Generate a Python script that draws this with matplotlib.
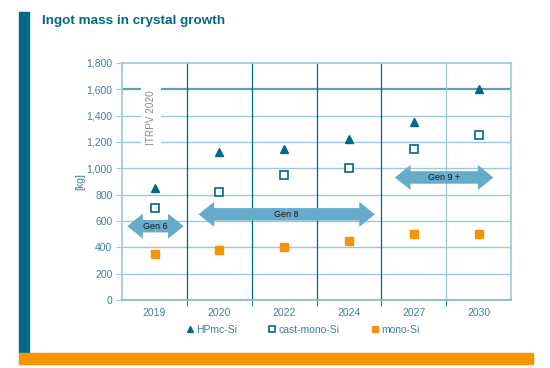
import numpy as np
import matplotlib.pyplot as plt
from matplotlib.patches import FancyArrow, Rectangle

# data
years = ['2019', '2020', '2022', '2024', '2027', '2030']
hpmc = [850, 1120, 1150, 1220, 1350, 1600]
cast_mono = [700, 820, 950, 1000, 1150, 1250]
mono = [350, 380, 400, 450, 500, 500]
y_ticks = [0, 200, 400, 600, 800, 1000, 1200, 1400, 1600, 1800]

# generation arrows: (label, x start, x end, y)
gens = [('Gen 6', -0.42, 0.45, 560),
        ('Gen 8', 0.68, 3.40, 650),
        ('Gen 9 +', 3.71, 5.23, 930)]

teal = '#006a86'
light = '#9cc8d8'
arrow_c = '#66abc9'
orange = '#f59400'
tick_c = '#3f7f9a'

plt.rcParams['font.family'] = ['Liberation Sans', 'DejaVu Sans']

fig = plt.figure(figsize=(5.5, 3.68), dpi=100)
ax = fig.add_axes([0.222, 0.185, 0.707, 0.644])

x = np.arange(len(years))

# grid
for v in y_ticks[1:-1]:
    ax.axhline(v, color=light if v != 1600 else '#5f9fb8',
               lw=1.0 if v != 1600 else 1.6, zorder=1)
for xv in x[:-1] + 0.5:
    ax.axvline(xv, color=teal if xv < 4 else light, lw=0.9, zorder=1)

ax.set_xlim(-0.5, 5.5)
ax.set_ylim(0, 1800)
for s in ax.spines.values():
    s.set_color(light)
    s.set_linewidth(1.2)
ax.spines['bottom'].set_color('#7fb3c7')

ax.set_xticks(x)
ax.set_xticklabels(years)
ax.set_yticks(y_ticks)
ax.set_yticklabels([f'{v:,}' for v in y_ticks])
ax.tick_params(colors=tick_c, labelsize=7.5, length=0, pad=6)
ax.tick_params(axis='y', length=4, direction='out', color=light, pad=3)
ax.set_xticks(x[:-1] + 0.5, minor=True)
ax.tick_params(axis='x', which='minor', length=4, color=teal)
ax.set_ylabel('[kg]', color=tick_c, fontsize=7.5, labelpad=1)

ax.plot(x, hpmc, '^', color=teal, ms=6, ls='none', label='HPmc-Si', zorder=4)
ax.plot(x, cast_mono, 's', mfc='white', mec=teal, mew=1.2, ms=6, ls='none',
        label='cast-mono-Si', zorder=4)
ax.plot(x, mono, 's', color=orange, ms=6, ls='none', label='mono-Si', zorder=4)

# double-headed arrows
for label, x0, x1, yv in gens:
    mid = (x0 + x1) / 2
    for d in (x1 - mid, x0 - mid):
        ax.add_patch(FancyArrow(mid, yv, d, 0, width=95, head_width=190,
                                head_length=0.24, length_includes_head=True,
                                color=arrow_c, lw=0, zorder=3))
    ax.text(mid, yv, label, ha='center', va='center', fontsize=6.5,
            color='#1a1a1a', zorder=5)

ax.text(-0.05, 1382, 'ITRPV 2020', rotation=90, ha='center', va='center',
        fontsize=7.2, color='#8a8a8a', zorder=5,
        bbox=dict(facecolor='white', edgecolor='none', pad=3.5))

fig.legend(loc='center', bbox_to_anchor=(0.548, 0.103), ncol=3, frameon=False,
           fontsize=7.5, labelcolor=tick_c, handletextpad=0.0, handlelength=1.2,
           columnspacing=2.8, markerscale=0.8)

# frame decoration
fig.patches.append(Rectangle((19 / 550, 1 - 353 / 368), 10 / 550, 341 / 368,
                             transform=fig.transFigure, color=teal, zorder=0))
fig.patches.append(Rectangle((19 / 550, 1 - 364 / 368), 514 / 550, 11 / 368,
                             transform=fig.transFigure, color=orange, zorder=0))
fig.text(42 / 550, 1 - 21 / 368, 'Ingot mass in crystal growth', fontsize=9.7,
         fontweight='bold', color=teal, va='center')

fig.savefig('out.png', dpi=100)
